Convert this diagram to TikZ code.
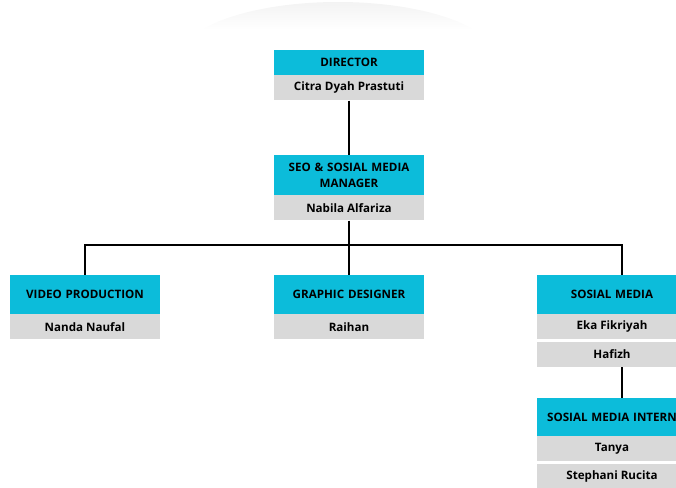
\documentclass[tikz,border=0pt]{standalone}
\usepackage{fontspec}
\setmainfont{Open Sans}
\usetikzlibrary{positioning}
\definecolor{teambar}{RGB}{12,188,218}
\definecolor{namebar}{RGB}{217,217,217}
\begin{document}
\begin{tikzpicture}[x=1pt,y=-1pt,
    unit/.style={fill=teambar, minimum width=150pt, minimum height=39pt, inner sep=0pt,
        text width=146pt, align=center, font=\fontsize{11.6}{16}\selectfont\bfseries},
    person/.style={fill=namebar, minimum width=150pt, minimum height=25pt, inner sep=0pt,
        font=\fontsize{11.6}{14}\selectfont\bfseries},
    link/.style={line width=1.6pt}]
        % Fix the page size
        \useasboundingbox (0,0) rectangle (676,487);

        % Faint shape at the top
        \begin{scope}
            \clip (338,60) ellipse (160 and 58);
            \shade[top color=black!5, bottom color=white] (170,0) rectangle (510,30);
        \end{scope}

        % Director
        \node[unit, minimum height=25pt] (dir) at (349,62.5) {DIRECTOR};
        \node[person, below=0pt of dir] (dirname) {Citra Dyah Prastuti};

        % Manager
        \node[unit, minimum height=40pt] (seo) at (349,175) {SEO \& SOSIAL MEDIA\\ MANAGER};
        \node[person, below=0pt of seo] (seoname) {Nabila Alfariza};

        % Teams
        \node[unit] (video) at (85,294.5) {VIDEO PRODUCTION};
        \node[person, below=0pt of video] (videoname) {Nanda Naufal};

        \node[unit] (graphic) at (349,294.5) {GRAPHIC DESIGNER};
        \node[person, below=0pt of graphic] (graphicname) {Raihan};

        \node[unit] (sosmed) at (612,294.5) {SOSIAL MEDIA};
        \node[person, below=0pt of sosmed] (sosmedone) {Eka Fikriyah};
        \node[person, below=2pt of sosmedone] (sosmedtwo) {Hafizh};

        % Interns
        \node[unit, minimum height=38pt] (intern) at (612,417) {SOSIAL MEDIA INTERN};
        \node[person, below=0pt of intern] (internone) {Tanya};
        \node[person, below=2pt of internone] (interntwo) {Stephani Rucita};

        % Connectors
        \coordinate (bus) at (349,245);
        \draw[link] (dirname.south) -- (seo.north);
        \draw[link] (seoname.south) -- (bus);
        \draw[link] (video.north) |- (bus) -| ([xshift=10pt]sosmed.north);
        \draw[link] (graphic.north) -- (bus);
        \draw[link] ([xshift=10pt]sosmedtwo.south) -- ([xshift=10pt]intern.north);

    \end{tikzpicture}
\end{document}
